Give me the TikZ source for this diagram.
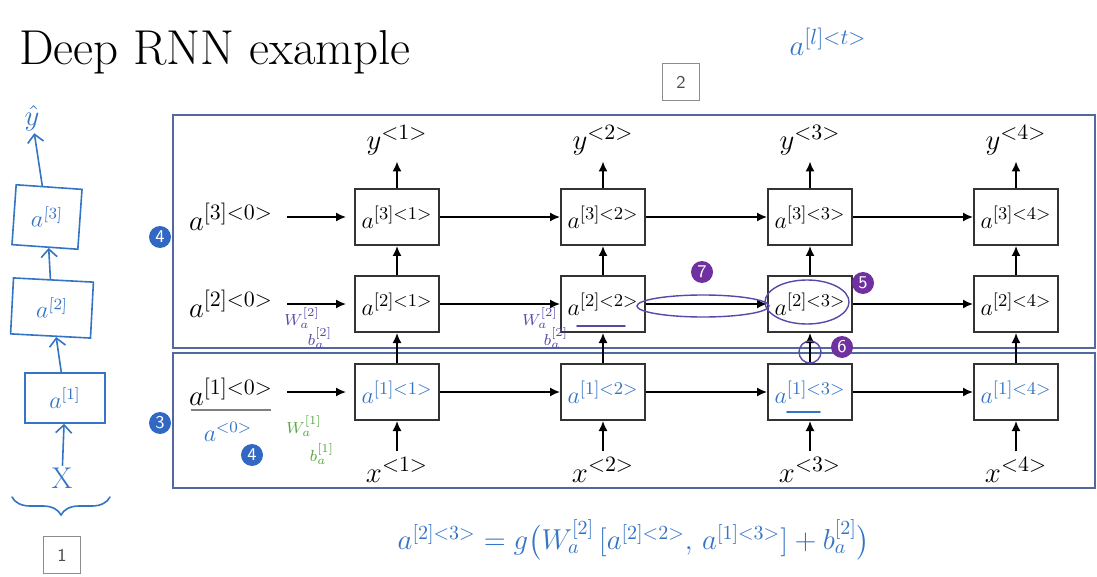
\documentclass[tikz,border=0pt]{standalone}
\usepackage{amsmath,amssymb}
\usepackage{tikz}
\usetikzlibrary{calc,positioning,arrows.meta,decorations.pathreplacing}
\definecolor{FrameBlue}{RGB}{84,104,160}
\definecolor{InkBlue}{RGB}{52,116,196}
\definecolor{InkPurple}{RGB}{88,72,168}
\definecolor{InkGreen}{RGB}{84,168,64}
\definecolor{BadgeBlue}{RGB}{48,104,196}
\definecolor{BadgePurple}{RGB}{112,48,160}
\tikzset{
 rnn frame/.style={draw=FrameBlue,line width=1.1pt},
 rnn cell/.style={draw=black!80,line width=1pt,minimum width=42pt,minimum height=28pt,
                  inner sep=0pt,font=\fontsize{12.5}{14}\selectfont},
 rnn arrow/.style={-{Latex[length=5pt,width=4.5pt]},line width=.8pt},
 rnn label/.style={font=\fontsize{15}{17}\selectfont,inner sep=1pt},
 ink/.style={text=InkBlue,font=\fontsize{12}{14}\selectfont,inner sep=1pt},
 ink line/.style={draw=InkBlue,line width=.8pt,line cap=round},
 ink arrow/.style={ink line,-{Straight Barb[length=4pt]}},
 ink purple/.style={draw=InkPurple,line width=.7pt},
 hand box/.style={draw=InkBlue,line width=.8pt,text=InkBlue,font=\fontsize{12}{14}\selectfont},
 note purple/.style={text=InkPurple,font=\fontsize{8}{9}\selectfont,inner sep=0pt},
 note green/.style={text=InkGreen,font=\fontsize{8}{9}\selectfont,inner sep=0pt},
 badge/.style={circle,fill=#1,text=white,inner sep=0pt,minimum size=11pt,
               font=\sffamily\fontsize{9}{9}\selectfont},
 slide box/.style={draw=black!45,line width=.6pt,minimum size=18.5pt,inner sep=0pt,
                   text=black!70,font=\sffamily\fontsize{9}{9}\selectfont}
}
\begin{document}
\begin{tikzpicture}[x=.5pt,y=-.5pt]
 \useasboundingbox (0,0) rectangle (1097,577);
 % title, slide marks
 \node[anchor=base west,font=\fontsize{24.5}{28}\selectfont] (title) at (12,65) {Deep RNN example};
 \node[slide box] (mark2) at (681,82) {2};
 \node[slide box] (mark1) at (62,555) {1};
 \node[ink,font=\fontsize{15}{17}\selectfont] (anot) at (828,42) {$a^{[l]{<}t{>}}$};

 % frames
 \draw[rnn frame] (173,115) rectangle (1095,348);
 \draw[rnn frame] (173,353) rectangle (1095,488);

 % cells
 \foreach \t/\x in {1/397,2/603,3/810,4/1016}{
   \node[rnn cell] (c3\t) at (\x,217) {$a^{[3]{<}\t{>}}$};
   \node[rnn cell] (c2\t) at (\x,304) {$a^{[2]{<}\t{>}}$};
   \node[rnn cell,text=InkBlue] (c1\t) at (\x,392) {$a^{[1]{<}\t{>}}$};
   \node[rnn label] (y\t) at (\x,140) {$y^{{<}\t{>}}$};
   \node[rnn label] (x\t) at (\x,470) {$x^{{<}\t{>}}$};
   \draw[rnn arrow,shorten >=2pt] (c3\t) -- (y\t);
   \draw[rnn arrow] (c2\t) -- (c3\t);
   \draw[rnn arrow] (c1\t) -- (c2\t);
   \draw[rnn arrow,shorten <=2pt] (x\t) -- (c1\t);
 }
 \foreach \l in {1,2,3}{
   \foreach \t/\n in {1/2,2/3,3/4}{\draw[rnn arrow] (c\l\t) -- (c\l\n);}
 }
 \foreach \l/\y in {3/217,2/304,1/392}{
   \node[rnn label] (a\l0) at (231,\y) {$a^{[\l]{<}0{>}}$};
   \draw[rnn arrow,shorten <=6pt,shorten >=4pt] (a\l0) -- (c\l1);
 }
 \draw[draw=black!50,line width=.9pt] ($(a10.south west)+(4,2)$) -- ($(a10.south east)+(-4,2)$);

 % notes on layer 1
 \node[ink] (a0ink) at (228,432) {$a^{{<}0{>}}$};
 \node[note green] (w11) at (304,426) {$W_a^{[1]}$};
 \node[note green] (b11) at (322,454) {$b_a^{[1]}$};
 \draw[ink line] (787,412) -- (820,412);

 % notes on layer 2
 \node[note purple] (w21) at (302,318) {$W_a^{[2]}$};
 \node[note purple] (b21) at (320,338) {$b_a^{[2]}$};
 \node[note purple] (w22) at (540,318) {$W_a^{[2]}$};
 \node[note purple] (b22) at (556,338) {$b_a^{[2]}$};
 \draw[ink line,draw=InkPurple] (577,326) -- (625,326);
 \draw[ink purple] ($(c23)+(-3,-2)$) ellipse [x radius=21pt,y radius=11pt];
 \draw[ink purple] (703,306) ellipse [x radius=33pt,y radius=5.5pt];
 \draw[ink purple] (810,352) circle [radius=5.5pt];

 % badges
 \node[badge=BadgeBlue] (n4a) at (160,237) {4};
 \node[badge=BadgeBlue] (n3) at (160,423) {3};
 \node[badge=BadgeBlue] (n4b) at (252,455) {4};
 \node[badge=BadgePurple] (n7) at (702,272) {7};
 \node[badge=BadgePurple] (n5) at (863,283) {5};
 \node[badge=BadgePurple] (n6) at (842,347) {6};

 % hand sketch, left
 \node[hand box,minimum width=40pt,minimum height=25pt] (h1) at (65,398) {$a^{[1]}$};
 \node[hand box,minimum width=40pt,minimum height=28pt,rotate=-3] (h2) at (52,308) {$a^{[2]}$};
 \node[hand box,minimum width=33pt,minimum height=30pt,rotate=-4] (h3) at (47,217) {$a^{[3]}$};
 \node[ink,font=\fontsize{15}{17}\selectfont] (hx) at (62,478) {X};
 \node[ink,font=\fontsize{15}{17}\selectfont] (hy) at (32,118) {$\hat{y}$};
 \draw[ink arrow] (hx) -- (h1);
 \draw[ink arrow] (h1) -- (h2);
 \draw[ink arrow] (h2) -- (h3);
 \draw[ink arrow] (h3) -- (hy);
 \draw[ink line,decorate,decoration={brace,mirror,amplitude=9pt}] (12,497) -- (110,497);

 % equation
 \node[ink,font=\fontsize{14.5}{17}\selectfont] (eq) at (634,540)
   {$a^{[2]{<}3{>}} = g\bigl(W_a^{[2]}\,[a^{[2]{<}2{>}},\, a^{[1]{<}3{>}}] + b_a^{[2]}\bigr)$};
\end{tikzpicture}
\end{document}
